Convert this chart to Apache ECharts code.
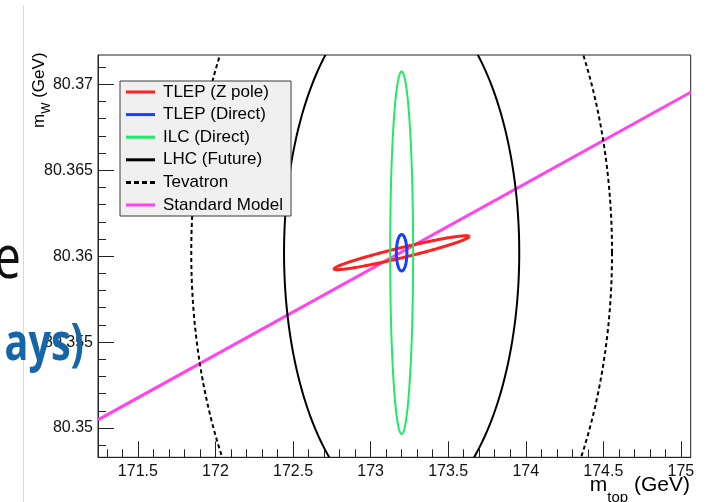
<!DOCTYPE html>
<html><head><meta charset="utf-8">
<script src="https://cdn.jsdelivr.net/npm/echarts@6/dist/echarts.min.js"></script>
<style>html,body{margin:0;padding:0;background:#fff;}#c{width:714px;height:502px;}</style>
</head><body><div id="c"></div>
<script>
// ---- axis ranges and ticks ----
const xRange = [171.243, 175.063];
const yRange = [80.3483, 80.3717];
const xTickValues = [171.5, 172, 172.5, 173, 173.5, 174, 174.5, 175];
const xTickLabels = ['171.5', '172', '172.5', '173', '173.5', '174', '174.5', '175'];
const yTickValues = [80.35, 80.355, 80.36, 80.365, 80.37];
const yTickLabels = ['80.35', '80.355', '80.36', '80.365', '80.37'];
const xMinorTicks = [171.3, 171.4, 171.6, 171.7, 171.8, 171.9, 172.1, 172.2, 172.3, 172.4, 172.6, 172.7, 172.8, 172.9,
  173.1, 173.2, 173.3, 173.4, 173.6, 173.7, 173.8, 173.9, 174.1, 174.2, 174.3, 174.4, 174.6, 174.7, 174.8, 174.9];
const yMinorTicks = [80.349, 80.351, 80.352, 80.353, 80.354, 80.356, 80.357, 80.358, 80.359, 80.361, 80.362, 80.363,
  80.364, 80.366, 80.367, 80.368, 80.369, 80.371];

// ---- series ----
const seriesNames = ['TLEP (Z pole)', 'TLEP (Direct)', 'ILC (Direct)', 'LHC (Future)', 'Tevatron', 'Standard Model'];
// ellipse contours: centre, half-width in m_top (to the extreme-m_top point),
// m_W offset of that extreme point (tilt), vertical half-chord through the centre
const ellCentreMtop = [173.2, 173.2, 173.2, 173.2, 173.2];
const ellCentreMw   = [80.3602, 80.3602, 80.3602, 80.3602, 80.3602];
const ellHalfMtop   = [0.435, 0.034, 0.074, 0.758, 1.356];
const ellTiltMw     = [0.00094, 0, 0, 0, 0];
const ellHalfMw     = [0.0003, 0.00106, 0.01054, 0.0151, 0.0228];
// Standard Model line
const smMtop = [171.243, 175.063];
const smMw   = [80.35048, 80.36953];

const colors = ['#ff2020', '#1540ff', '#22e866', '#000000', '#000000', '#ff44ee'];
const widths = [3, 3, 2, 2, 2, 3];
const dashes = [null, null, null, null, [4, 3], null];

const FONT = '"Liberation Sans", Arial, Helvetica, sans-serif';
const chart = echarts.init(document.getElementById('c'));

function fmt(vals, labels) {
  return function (v) {
    for (let i = 0; i < vals.length; i++) if (Math.abs(v - vals[i]) < 1e-7) return labels[i];
    return '';
  };
}

function ellipseSeries(i) {
  return {
    type: 'custom', name: seriesNames[i], coordinateSystem: 'cartesian2d', clip: true,
    xAxisIndex: 0, yAxisIndex: 0,
    itemStyle: { color: colors[i] },
    data: [[ellCentreMtop[i], ellCentreMw[i]]],
    z: 2 + i,
    renderItem: function (params, api) {
      const pts = [];
      const cx = ellCentreMtop[i], cy = ellCentreMw[i];
      for (let k = 0; k <= 240; k++) {
        const t = k / 240 * 2 * Math.PI;
        pts.push(api.coord([cx + ellHalfMtop[i] * Math.cos(t), cy + ellTiltMw[i] * Math.cos(t) + ellHalfMw[i] * Math.sin(t)]));
      }
      return { type: 'polyline', shape: { points: pts },
        style: { fill: null, stroke: colors[i], lineWidth: widths[i], lineDash: dashes[i] } };
    }
  };
}

const smSeries = {
  type: 'custom', name: seriesNames[5], coordinateSystem: 'cartesian2d', clip: true,
  xAxisIndex: 0, yAxisIndex: 0,
  itemStyle: { color: colors[5] },
  data: smMtop.map((x, k) => [x, smMw[k]]),
  z: 2,
  renderItem: function (params, api) {
    if (params.dataIndex !== 0) return null;
    const pts = smMtop.map((x, k) => api.coord([x, smMw[k]]));
    return { type: 'polyline', shape: { points: pts },
      style: { fill: null, stroke: colors[5], lineWidth: widths[5] } };
  }
};

// text measuring for axis titles
const mctx = document.createElement('canvas').getContext('2d');
function tw(s, size) { mctx.font = size + 'px "Liberation Sans"'; return mctx.measureText(s).width; }
const TS = 17, SS = 12, XTS = 21, XSS = 15;
const xt1 = 'm', xt2 = 'top', xt3 = ' (GeV)';
const xTitleW = tw(xt1, XTS) + tw(xt2, XSS) + tw(xt3, XTS);
const xTitleX = 690 - xTitleW;
const yt1 = 'm', yt2 = 'W', yt3 = ' (GeV)';

function txt(x, y, s, size, extra) {
  return Object.assign({ type: 'text', x: x, y: y, silent: true,
    style: Object.assign({ text: s, fontSize: size, fontFamily: FONT, fill: '#000',
      align: 'left', textAlign: 'left', verticalAlign: 'middle', textVerticalAlign: 'middle' }, extra || {}) });
}

const solidIcon = 'path://M0,0H29V3H0Z';
const dashIcon = 'path://M0,0h5v3h-5z M8,0h5v3h-5z M16,0h5v3h-5z M24,0h5v3h-5z';

const option = {
  animation: false,
  backgroundColor: '#ffffff',
  grid: { left: 98, top: 55, right: 23.3, bottom: 44.7, show: true, borderColor: '#222', borderWidth: 1,
    backgroundColor: 'transparent', containLabel: false },
  xAxis: [
    { type: 'value', min: xRange[0], max: xRange[1], position: 'bottom',
      axisLine: { show: true, lineStyle: { color: '#222', width: 1 } },
      axisTick: { show: true, inside: true, length: 16, customValues: xTickValues, lineStyle: { color: '#222' } },
      axisLabel: { show: true, customValues: xTickValues, formatter: fmt(xTickValues, xTickLabels),
        fontSize: 16, fontFamily: FONT, color: '#111', margin: 6 },
      splitLine: { show: false } },
    { type: 'value', min: xRange[0], max: xRange[1], position: 'bottom',
      axisLine: { show: false },
      axisTick: { show: true, inside: true, length: 8, customValues: xMinorTicks, lineStyle: { color: '#222' } },
      axisLabel: { show: false }, splitLine: { show: false } }
  ],
  yAxis: [
    { type: 'value', min: yRange[0], max: yRange[1], position: 'left',
      axisLine: { show: true, lineStyle: { color: '#222', width: 1 } },
      axisTick: { show: true, inside: true, length: 16, customValues: yTickValues, lineStyle: { color: '#222' } },
      axisLabel: { show: true, customValues: yTickValues, formatter: fmt(yTickValues, yTickLabels),
        fontSize: 16, fontFamily: FONT, color: '#111', margin: 5 },
      splitLine: { show: false } },
    { type: 'value', min: yRange[0], max: yRange[1], position: 'left',
      axisLine: { show: false },
      axisTick: { show: true, inside: true, length: 8, customValues: yMinorTicks, lineStyle: { color: '#222' } },
      axisLabel: { show: false }, splitLine: { show: false } }
  ],
  legend: {
    orient: 'vertical', left: 120, top: 81, padding: [1, 8, 1, 6], itemGap: 2.6,
    itemWidth: 29, itemHeight: 3, selectedMode: false, z: 20,
    backgroundColor: '#f0f0f0', borderColor: '#3a3a3a', borderWidth: 1,
    itemStyle: { borderWidth: 0 },
    textStyle: { fontSize: 17, fontFamily: FONT, color: '#000', lineHeight: 20, padding: [0, 0, 0, 3] },
    data: seriesNames.map((n, i) => ({ name: n, icon: i === 4 ? dashIcon : solidIcon }))
  },
  series: [ellipseSeries(4), ellipseSeries(3), smSeries, ellipseSeries(2), ellipseSeries(0), ellipseSeries(1)],
  graphic: [
    // slide background remnants
    { type: 'line', silent: true, z: 0, shape: { x1: 23.5, y1: 5, x2: 23.5, y2: 502 }, style: { stroke: '#d9d9d9', lineWidth: 1 } },
    // axis titles
    txt(xTitleX, 485, xt1, XTS),
    txt(xTitleX + tw(xt1, XTS), 498, xt2, XSS),
    txt(xTitleX + tw(xt1, XTS) + tw(xt2, XSS), 485, xt3, XTS),
    { type: 'group', x: 0, y: 128, rotation: Math.PI / 2, silent: true,
      children: [
        txt(0, 39.3, yt1, TS),
        txt(tw(yt1, TS), 47, yt2, SS),
        txt(tw(yt1, TS) + tw(yt2, SS), 39.3, yt3, TS)
      ] },
    // slide text overlapping the figure
    { type: 'text', x: 21, y: 261, z: 100, scaleX: 0.8, silent: true,
      style: { text: 'e', fontSize: 60, fontFamily: '"Open Sans", sans-serif', fill: '#111',
        align: 'right', textAlign: 'right', verticalAlign: 'middle', textVerticalAlign: 'middle' } },
    { type: 'text', x: 84, y: 345, z: 100, scaleX: 0.76, silent: true,
      style: { text: 'ays)', fontSize: 52, fontWeight: 'bold', fontFamily: '"Open Sans", sans-serif', fill: '#1466a8',
        align: 'right', textAlign: 'right', verticalAlign: 'middle', textVerticalAlign: 'middle' } }
  ]
};
chart.setOption(option);
</script>
</body></html>
